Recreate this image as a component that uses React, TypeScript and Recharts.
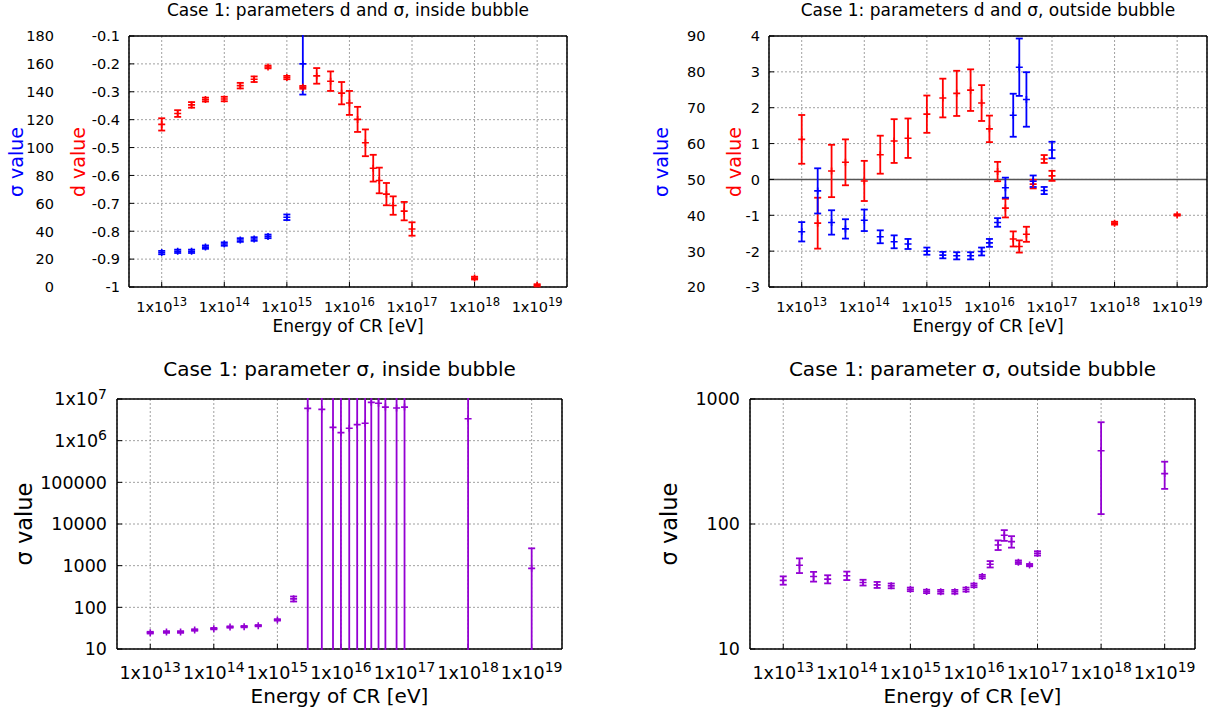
import React from "react";
import { CartesianGrid, ErrorBar, ReferenceLine, Scatter, ScatterChart, XAxis, YAxis } from "recharts";

const W = 1212;
const H = 713;
const FONT = "'DejaVu Sans', sans-serif";
const RED = "#ff0000";
const BLUE = "#0000ff";
const VIOLET = "#9400d3";

// CR energy bins [eV]
const energy = [
  1e13, 1.8e13, 3e13, 5e13, 1e14, 1.8e14, 3e14, 5e14, 1e15, 1.8e15, 3e15, 5e15,
  7.5e15, 1e16, 1.35e16, 1.8e16, 2.4e16, 3e16, 3.9e16, 5e16, 7.5e16, 1e17, 1e18, 1e19,
];

// inside bubble
const dIn = [
  -0.417, -0.378, -0.347, -0.328, -0.326, -0.278, -0.255, -0.211, -0.249, -0.284, -0.243, -0.262,
  -0.305, -0.34, -0.399, -0.483, -0.574, -0.618, -0.667, -0.708, -0.728, -0.792, -0.968, -0.994,
];
const dInErr = [
  0.022, 0.012, 0.01, 0.007, 0.008, 0.01, 0.01, 0.005, 0.006, 0.005, 0.028, 0.035,
  0.04, 0.043, 0.045, 0.048, 0.048, 0.046, 0.04, 0.033, 0.033, 0.024, 0.005, 0.004,
];
const sigIn = [
  24.7, 25.6, 25.6, 28.6, 30.8, 33.7, 34.4, 36.3, 50, 160, 5.97e6, 5.65e6,
  2.09e6, 1.56e6, 1.98e6, 2.42e6, 2.61e6, 8.3e6, 7.9e6, 6.4e6, 6.1e6, 6.4e6, 3.37e6, 863,
];
const sigInErr = [
  1.2, 1.2, 1.2, 1.2, 1.2, 1.3, 1.3, 1.3, 2, 22, 2e7, 2e7,
  2e7, 2e7, 2e7, 2e7, 2e7, 2e7, 2e7, 2e7, 2e7, 2e7, 2e7, 1743,
];

// outside bubble
const dOut = [
  1.117, -1.22, 0.236, 0.477, -0.042, 0.69, 1.07, 1.15, 1.82, 2.27, 2.4, 2.49,
  2.13, 1.41, 0.22, -0.8, -1.66, -1.87, -1.53, -0.13, 0.57, 0.1, -1.22, -0.99,
];
const dOutErr = [
  0.68, 0.71, 0.73, 0.64, 0.56, 0.53, 0.61, 0.55, 0.52, 0.54, 0.63, 0.58,
  0.5, 0.37, 0.27, 0.26, 0.21, 0.17, 0.21, 0.12, 0.11, 0.14, 0.04, 0.02,
];
const sigOut = [
  35.4, 46.8, 38, 36.2, 38.6, 34, 32.6, 32, 30, 28.9, 28.7, 28.7,
  29.9, 32.3, 38, 47.7, 67.9, 81.3, 72.3, 49.5, 46.9, 58.2, 386, 253,
];
const sigOutErr = [
  2.7, 6.3, 3.4, 2.7, 3, 1.8, 1.8, 1.4, 1, 0.9, 1, 1,
  1.1, 1.1, 1.2, 2.8, 6, 8, 7.6, 1.6, 1, 2.3, 266, 62,
];

// axes
const xDomain = [3e12, 3e19];
const xTickExps = [13, 14, 15, 16, 17, 18, 19];
const xTicks = xTickExps.map(e => Math.pow(10, e));
const xTickLabels = xTickExps.map(e => `1x10^${e}`);
const xMinor = [12, 13, 14, 15, 16, 17, 18, 19]
  .flatMap(e => [2, 5, 8].map(m => m * Math.pow(10, e)))
  .filter(v => v > xDomain[0] && v < xDomain[1]);

const dInTicks = [-1, -0.9, -0.8, -0.7, -0.6, -0.5, -0.4, -0.3, -0.2, -0.1];
const dInLabels = ["-1", "-0.9", "-0.8", "-0.7", "-0.6", "-0.5", "-0.4", "-0.3", "-0.2", "-0.1"];
const sInTicks = [0, 20, 40, 60, 80, 100, 120, 140, 160, 180];
const dOutTicks = [-3, -2, -1, 0, 1, 2, 3, 4];
const sOutTicks = [20, 30, 40, 50, 60, 70, 80, 90];
const sInLogTicks = [10, 100, 1000, 10000, 100000, 1e6, 1e7];
const sInLogLabels = ["10", "100", "1000", "10000", "100000", "1x10^6", "1x10^7"];
const sOutLogTicks = [10, 100, 1000];
const sOutLogLabels = ["10", "100", "1000"];

const logMinor = (lo: number, hi: number) => {
  const out: number[] = [];
  for (let d = lo; d < hi; d *= 10) for (let m = 2; m <= 9; m++) out.push(m * d);
  return out;
};

type Row = { x: number; y: number; e: [number, number] };
const rows = (v: number[], err: number[], lo: number, hi: number, floor = -Infinity): Row[] =>
  energy
    .map((x, i) => ({ x, y: v[i], e: [Math.min(err[i], v[i] - floor), err[i]] as [number, number] }))
    .filter(r => r.y >= lo && r.y <= hi);

type Box = { l: number; r: number; t: number; b: number };
const boxTL: Box = { l: 129, r: 567, t: 36, b: 287 };
const boxTR: Box = { l: 769, r: 1207, t: 36, b: 287 };
const boxBL: Box = { l: 117, r: 562, t: 399, b: 649 };
const boxBR: Box = { l: 750, r: 1195, t: 399, b: 649 };
const margin = (bx: Box) => ({ left: bx.l, right: W - bx.r, top: bx.t, bottom: H - bx.b });

const border = { stroke: "#000", strokeWidth: 1.5 };
const tickLine = { stroke: "#000", strokeWidth: 1 };

function Rich({ x, y, anchor, fs, label, fill = "#000" }: any) {
  const [base, sup] = String(label).split("^");
  return (
    <text x={x} y={y} textAnchor={anchor} fontSize={fs} fontFamily={FONT} fill={fill}>
      {base}
      {sup && <tspan dy={-fs * 0.38} fontSize={fs * 0.8}>{sup}</tspan>}
    </text>
  );
}

const labelOf = (ticks: number[], labels: string[], v: number) => {
  const i = ticks.findIndex(t => Math.abs(t - v) <= Math.abs(t) * 1e-6 + 1e-9);
  return i >= 0 ? labels[i] : String(v);
};

const xLabel = (base: number, fs: number) => (p: any) =>
  <Rich x={p.x} y={base} anchor="middle" fs={fs} label={labelOf(xTicks, xTickLabels, p.payload.value)} />;

const yLabel = (right: number, fs: number, ticks: number[], labels: string[]) => (p: any) =>
  <Rich x={right} y={p.y + fs * 0.37} anchor="end" fs={fs} label={labelOf(ticks, labels, p.payload.value)} />;

function xAxes(base: number, fs: number) {
  const c = {
    dataKey: "x", type: "number" as const, scale: "log" as const, domain: xDomain,
    allowDataOverflow: true, interval: 0 as const, mirror: true, tickLine,
  };
  return [
    <XAxis key="xb" xAxisId="xb" {...c} orientation="bottom" ticks={xTicks} tickSize={5} axisLine={border} tick={xLabel(base, fs)} />,
    <XAxis key="xbm" xAxisId="xbm" {...c} orientation="bottom" ticks={xMinor} tickSize={3} axisLine={false} tick={false} />,
    <XAxis key="xt" xAxisId="xt" {...c} orientation="top" ticks={xTicks} tickSize={5} axisLine={border} tick={false} />,
    <XAxis key="xtm" xAxisId="xtm" {...c} orientation="top" ticks={xMinor} tickSize={3} axisLine={false} tick={false} />,
  ];
}

function yAxes(id: string, scale: "linear" | "log", domain: number[], ticks: number[], minor: number[] | null, tick: any) {
  const c = {
    dataKey: "y", type: "number" as const, scale, domain,
    allowDataOverflow: true, interval: 0 as const, mirror: true, tickLine,
  };
  const out = [
    <YAxis key={id} yAxisId={id} {...c} orientation="left" ticks={ticks} tickSize={5} axisLine={border} tick={tick} />,
    <YAxis key={id + "r"} yAxisId={id + "r"} {...c} orientation="right" ticks={ticks} tickSize={5} axisLine={border} tick={false} />,
  ];
  if (minor) {
    out.push(<YAxis key={id + "lm"} yAxisId={id + "lm"} {...c} orientation="left" ticks={minor} tickSize={3} axisLine={false} tick={false} />);
    out.push(<YAxis key={id + "rm"} yAxisId={id + "rm"} {...c} orientation="right" ticks={minor} tickSize={3} axisLine={false} tick={false} />);
  }
  return out;
}

const plus = (color: string) => (p: any) =>
  <path d={`M${p.cx - 3.5},${p.cy}h7M${p.cx},${p.cy - 3.5}v7`} stroke={color} strokeWidth={1.6} fill="none" />;

type YDef = { id: string; scale: "linear" | "log"; domain: number[] };
type SeriesDef = { data: Row[]; yId: string; color: string };

// data layer: same scales, hidden axes, cropped to the plot box like gnuplot does
function DataLayer({ box, ys, series }: { box: Box; ys: YDef[]; series: SeriesDef[] }) {
  const clip = `inset(${box.t - 1}px ${W - box.r - 1}px ${H - box.b - 1}px ${box.l - 1}px)`;
  return (
    <div style={{ position: "absolute", left: 0, top: 0, clipPath: clip }}>
      <ScatterChart width={W} height={H} margin={margin(box)}>
        <XAxis xAxisId="xb" dataKey="x" type="number" scale="log" domain={xDomain} allowDataOverflow hide />
        {ys.map(y => (
          <YAxis key={y.id} yAxisId={y.id} dataKey="y" type="number" scale={y.scale} domain={y.domain} allowDataOverflow hide />
        ))}
        {series.map((s, i) => (
          <Scatter key={i} data={s.data} xAxisId="xb" yAxisId={s.yId} fill={s.color} shape={plus(s.color)} isAnimationActive={false}>
            <ErrorBar dataKey="e" direction="y" width={3.5} stroke={s.color} strokeWidth={1.8} isAnimationActive={false} />
          </Scatter>
        ))}
      </ScatterChart>
    </div>
  );
}

const grid = (yId: string) =>
  <CartesianGrid xAxisId="xb" yAxisId={yId} stroke="#a0a0a0" strokeWidth={1} strokeDasharray="2 2" />;

const layer: React.CSSProperties = { position: "absolute", left: 0, top: 0 };

export default function App() {
  const tlRed = rows(dIn, dInErr, -1, -0.1);
  const tlBlue = rows(sigIn, sigInErr, 0, 180);
  const trRed = rows(dOut, dOutErr, -3, 4);
  const trBlue = rows(sigOut, sigOutErr, 20, 90);
  const blData = rows(sigIn, sigInErr, 10, 1e7, 1);
  const brData = rows(sigOut, sigOutErr, 10, 1000, 1);

  const titles = [
    { x: 348, y: 16, fs: 17, t: "Case 1: parameters d and σ, inside bubble" },
    { x: 988, y: 16, fs: 17, t: "Case 1: parameters d and σ, outside bubble" },
    { x: 348, y: 332, fs: 17, t: "Energy of CR [eV]" },
    { x: 988, y: 332, fs: 17, t: "Energy of CR [eV]" },
    { x: 339.5, y: 376, fs: 20, t: "Case 1: parameter σ, inside bubble" },
    { x: 972.5, y: 376, fs: 20, t: "Case 1: parameter σ, outside bubble" },
    { x: 339.5, y: 703, fs: 20, t: "Energy of CR [eV]" },
    { x: 972.5, y: 703, fs: 20, t: "Energy of CR [eV]" },
  ];
  const vlabels = [
    { x: 23, y: 162, fs: 19, t: "σ value", c: BLUE },
    { x: 85, y: 162, fs: 19, t: "d value", c: RED },
    { x: 668, y: 162, fs: 19, t: "σ value", c: BLUE },
    { x: 741, y: 162, fs: 19, t: "d value", c: RED },
    { x: 31.5, y: 524, fs: 22.5, t: "σ value", c: "#000" },
    { x: 676.5, y: 524, fs: 22.5, t: "σ value", c: "#000" },
  ];

  return (
    <div style={{ position: "absolute", left: 0, top: 0, width: W, height: H, background: "#fff", fontFamily: FONT }}>
      {/* top left: d and sigma, inside */}
      <div style={layer}>
        <ScatterChart width={W} height={H} margin={margin(boxTL)}>
          {xAxes(311.5, 14.5)}
          {yAxes("d", "linear", [-1, -0.1], dInTicks, null, yLabel(120, 14.5, dInTicks, dInLabels))}
          <YAxis yAxisId="s" dataKey="y" type="number" domain={[0, 180]} allowDataOverflow mirror orientation="left"
            ticks={sInTicks} interval={0} tickLine={false} axisLine={false}
            tick={yLabel(54, 14.5, sInTicks, sInTicks.map(String))} />
          {grid("d")}
        </ScatterChart>
      </div>
      <DataLayer box={boxTL}
        ys={[{ id: "d", scale: "linear", domain: [-1, -0.1] }, { id: "s", scale: "linear", domain: [0, 180] }]}
        series={[{ data: tlRed, yId: "d", color: RED }, { data: tlBlue, yId: "s", color: BLUE }]} />

      {/* top right: d and sigma, outside */}
      <div style={layer}>
        <ScatterChart width={W} height={H} margin={margin(boxTR)}>
          {xAxes(311.5, 14.5)}
          {yAxes("d", "linear", [-3, 4], dOutTicks, null, yLabel(760, 14.5, dOutTicks, dOutTicks.map(String)))}
          <YAxis yAxisId="s" dataKey="y" type="number" domain={[20, 90]} allowDataOverflow mirror orientation="left"
            ticks={sOutTicks} interval={0} tickLine={false} axisLine={false}
            tick={yLabel(705.5, 14.5, sOutTicks, sOutTicks.map(String))} />
          {grid("d")}
          <ReferenceLine xAxisId="xb" yAxisId="d" y={0} stroke="#555" strokeWidth={1.5} />
        </ScatterChart>
      </div>
      <DataLayer box={boxTR}
        ys={[{ id: "d", scale: "linear", domain: [-3, 4] }, { id: "s", scale: "linear", domain: [20, 90] }]}
        series={[{ data: trRed, yId: "d", color: RED }, { data: trBlue, yId: "s", color: BLUE }]} />

      {/* bottom left: sigma, inside (log) */}
      <div style={layer}>
        <ScatterChart width={W} height={H} margin={margin(boxBL)}>
          {xAxes(678.5, 17.5)}
          {yAxes("s", "log", [10, 1e7], sInLogTicks, logMinor(10, 1e7), yLabel(107, 17.5, sInLogTicks, sInLogLabels))}
          {grid("s")}
        </ScatterChart>
      </div>
      <DataLayer box={boxBL} ys={[{ id: "s", scale: "log", domain: [10, 1e7] }]}
        series={[{ data: blData, yId: "s", color: VIOLET }]} />

      {/* bottom right: sigma, outside (log) */}
      <div style={layer}>
        <ScatterChart width={W} height={H} margin={margin(boxBR)}>
          {xAxes(678.5, 17.5)}
          {yAxes("s", "log", [10, 1000], sOutLogTicks, logMinor(10, 1000), yLabel(740, 17.5, sOutLogTicks, sOutLogLabels))}
          {grid("s")}
        </ScatterChart>
      </div>
      <DataLayer box={boxBR} ys={[{ id: "s", scale: "log", domain: [10, 1000] }]}
        series={[{ data: brData, yId: "s", color: VIOLET }]} />

      <svg width={W} height={H} style={{ ...layer, pointerEvents: "none" }}>
        {titles.map((t, i) => (
          <text key={i} x={t.x} y={t.y} textAnchor="middle" fontSize={t.fs} fontFamily={FONT} fill="#000">{t.t}</text>
        ))}
        {vlabels.map((t, i) => (
          <text key={i} transform={`translate(${t.x},${t.y}) rotate(-90)`} textAnchor="middle" fontSize={t.fs} fontFamily={FONT} fill={t.c}>{t.t}</text>
        ))}
      </svg>
    </div>
  );
}
